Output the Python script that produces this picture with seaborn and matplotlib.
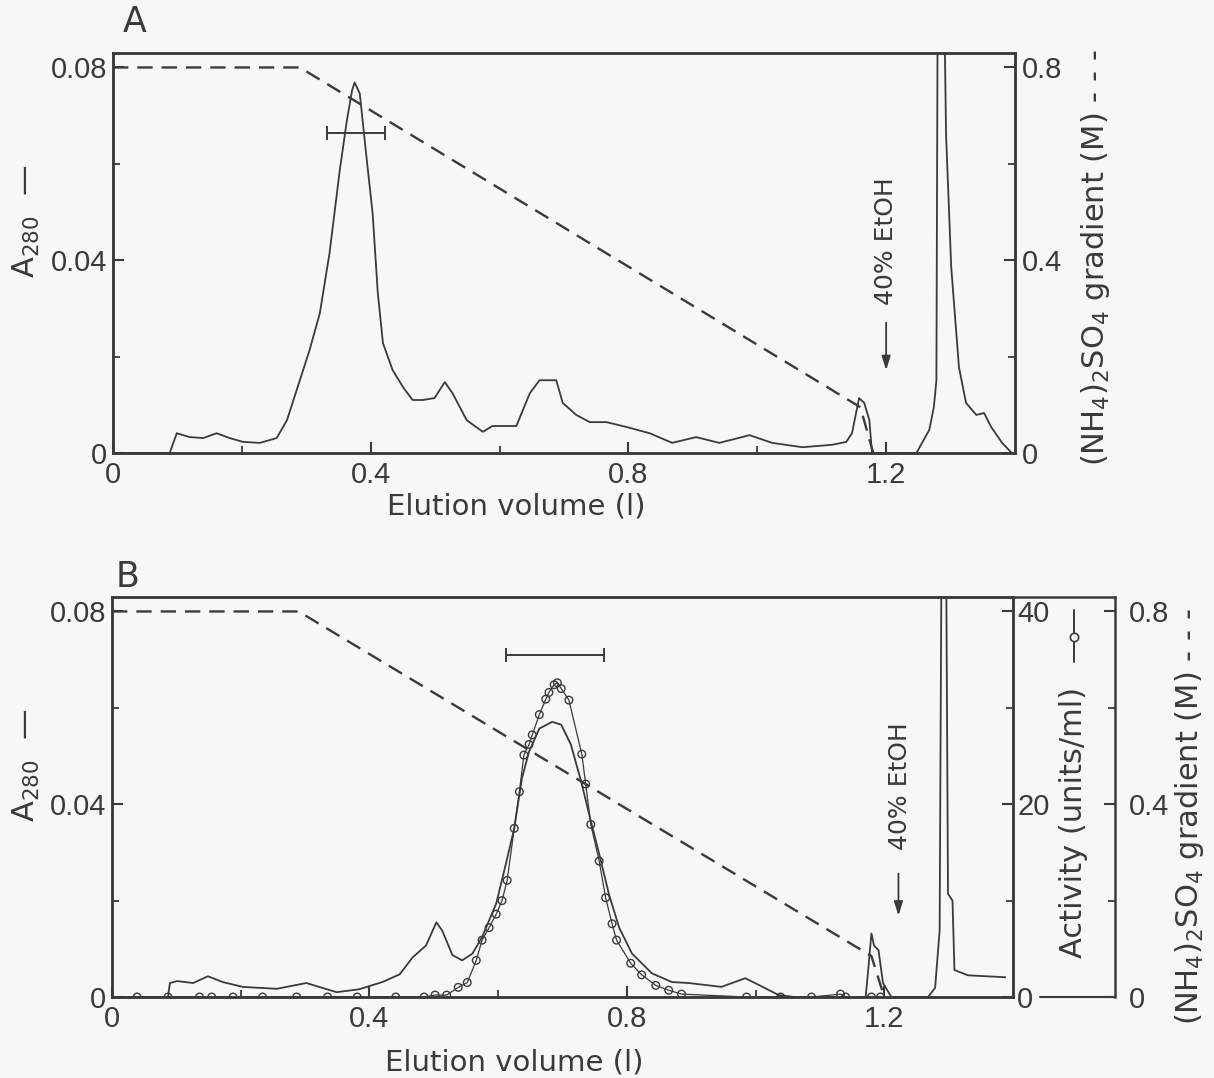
import matplotlib
matplotlib.use("Agg")
import matplotlib.pyplot as plt
import seaborn as sns
import pandas as pd
from matplotlib.lines import Line2D

# ---------------- Panel A data ----------------
a_vol = [0.000, 0.088, 0.099, 0.119, 0.140, 0.161, 0.181, 0.202, 0.228, 0.254,
         0.270, 0.290, 0.305, 0.321, 0.336, 0.352, 0.363, 0.371, 0.375, 0.383,
         0.394, 0.403, 0.411, 0.419, 0.434, 0.450, 0.465, 0.481, 0.499, 0.515,
         0.527, 0.549, 0.574, 0.589, 0.626, 0.647, 0.662, 0.688, 0.698, 0.719,
         0.740, 0.766, 0.797, 0.833, 0.868, 0.905, 0.941, 0.988, 1.023, 1.070,
         1.116, 1.138, 1.147, 1.158, 1.166, 1.174, 1.178, 1.247, 1.267, 1.274,
         1.278, 1.280, 1.290, 1.293, 1.301, 1.313, 1.324, 1.340, 1.352, 1.363,
         1.380, 1.395]
a_a280 = [0.0, 0.0, 0.0041, 0.0033, 0.0031, 0.0041, 0.0031, 0.0023, 0.0021, 0.0031,
          0.0068, 0.0151, 0.0213, 0.0290, 0.0414, 0.0587, 0.0690, 0.0752, 0.0769, 0.0746,
          0.0607, 0.0497, 0.0332, 0.0228, 0.0172, 0.0137, 0.0110, 0.0110, 0.0114, 0.0147,
          0.0124, 0.0068, 0.0044, 0.0056, 0.0056, 0.0124, 0.0151, 0.0151, 0.0104, 0.0079,
          0.0064, 0.0064, 0.0054, 0.0041, 0.0021, 0.0033, 0.0021, 0.0037, 0.0021, 0.0012,
          0.0017, 0.0023, 0.0041, 0.0114, 0.0104, 0.0068, 0.0, 0.0, 0.0048, 0.0095,
          0.0150, 0.0950, 0.0950, 0.0660, 0.0386, 0.0178, 0.0104, 0.0079, 0.0083, 0.0054,
          0.0021, 0.0]
a_grad_vol = [0.0, 0.29, 1.16, 1.18]
a_grad = [0.8, 0.8, 0.095, 0.0]
a_bar = [0.332, 0.422]
a_bar_level = 0.0665

# ---------------- Panel B data ----------------
b_vol = [0.000, 0.087, 0.090, 0.101, 0.126, 0.149, 0.172, 0.203, 0.256, 0.302,
         0.349, 0.384, 0.420, 0.447, 0.467, 0.488, 0.504, 0.513, 0.529, 0.544,
         0.560, 0.575, 0.597, 0.612, 0.625, 0.637, 0.648, 0.664, 0.684, 0.698,
         0.713, 0.729, 0.744, 0.757, 0.772, 0.788, 0.808, 0.839, 0.870, 0.896,
         0.947, 0.984, 1.005, 1.036, 1.060, 1.171, 1.175, 1.180, 1.184, 1.191,
         1.198, 1.211, 1.268, 1.279, 1.286, 1.289, 1.296, 1.299, 1.306, 1.309,
         1.330, 1.388]
b_a280 = [0.0, 0.0, 0.0029, 0.0033, 0.0029, 0.0043, 0.0031, 0.0021, 0.0017, 0.0029,
          0.0010, 0.0016, 0.0031, 0.0047, 0.0082, 0.0107, 0.0155, 0.0138, 0.0087, 0.0076,
          0.0090, 0.0124, 0.0194, 0.0276, 0.0350, 0.0454, 0.0509, 0.0557, 0.0571, 0.0565,
          0.0524, 0.0447, 0.0365, 0.0297, 0.0214, 0.0144, 0.0090, 0.0049, 0.0031, 0.0029,
          0.0021, 0.0039, 0.0025, 0.0004, 0.0, 0.0, 0.0056, 0.0132, 0.0107, 0.0097,
          0.0029, 0.0, 0.0, 0.0019, 0.0138, 0.0950, 0.0950, 0.0214, 0.0200, 0.0056,
          0.0045, 0.0041]
b_act_vol = [0.039, 0.087, 0.136, 0.155, 0.188, 0.234, 0.287, 0.335, 0.381, 0.441,
             0.485, 0.502, 0.520, 0.538, 0.552, 0.566, 0.575, 0.586, 0.597, 0.606,
             0.614, 0.625, 0.633, 0.640, 0.648, 0.653, 0.664, 0.674, 0.679, 0.687,
             0.692, 0.698, 0.710, 0.730, 0.736, 0.744, 0.757, 0.767, 0.777, 0.784,
             0.806, 0.823, 0.845, 0.865, 0.885, 0.986, 1.039, 1.087, 1.132, 1.140,
             1.180, 1.194]
b_activity = [0.0, 0.0, 0.0, 0.0, 0.0, 0.0, 0.0, 0.0, 0.0, 0.0,
              0.0, 0.2, 0.2, 1.0, 1.5, 3.8, 5.9, 7.2, 8.6, 10.0,
              12.1, 17.5, 21.3, 25.1, 26.2, 27.2, 29.3, 30.9, 31.6, 32.4,
              32.6, 32.0, 30.8, 25.2, 22.1, 17.9, 14.1, 10.3, 7.6, 5.9,
              3.5, 2.3, 1.2, 0.7, 0.3, 0.0, 0.0, 0.0, 0.3, 0.0,
              0.0, 0.0]
b_grad_vol = [0.0, 0.29, 1.18, 1.20]
b_grad = [0.8, 0.8, 0.085, 0.0]
b_bar = [0.612, 0.764]
b_bar_level = 0.0709

x_ticks = [0, 0.4, 0.8, 1.2]
x_ticklabels = ["0", "0.4", "0.8", "1.2"]
a280_ticks = [0, 0.04, 0.08]
a280_ticklabels = ["0", "0.04", "0.08"]
grad_ticks = [0, 0.4, 0.8]
grad_ticklabels = ["0", "0.4", "0.8"]
act_ticks = [0, 20, 40]
act_ticklabels = ["0", "20", "40"]

# ---------------- style ----------------
sns.set_theme(style="ticks")
plt.rcParams["font.family"] = ["Liberation Sans", "DejaVu Sans"]
INK = "#3a3a3a"
BG = "#f7f7f5"
LAB = "DejaVu Sans"
W, H = 1214, 1078

fig = plt.figure(figsize=(W / 100, H / 100), dpi=100, facecolor=BG)


def fx(x):
    return x / W


def fy(y):
    return 1 - y / H


def base_axes(left, right, top, bottom):
    ax = fig.add_axes([fx(left), fy(bottom), (right - left) / W, (bottom - top) / H])
    ax.set_facecolor("none")
    ax.set_xlim(0, 1.4)
    ax.set_ylim(0, 0.083)
    for s in ax.spines.values():
        s.set_color(INK)
        s.set_linewidth(1.8)
    ax.set_xticks(x_ticks, x_ticklabels)
    ax.set_xticks([0.2, 0.6, 1.0], minor=True)
    ax.set_yticks(a280_ticks, a280_ticklabels)
    ax.set_yticks([0.02, 0.06], minor=True)
    ax.tick_params(axis="both", which="major", direction="in", length=8, width=1.5,
                   colors=INK, labelsize=21, pad=4)
    ax.tick_params(axis="both", which="minor", direction="in", length=5, width=1.3,
                   colors=INK)
    ax.tick_params(axis="x", which="major", pad=5.5)
    ax.set_xlabel("")
    ax.set_ylabel("")
    return ax


def finish_twin(tw, lim, ticks, labels, minor, pad):
    tw.set_ylim(*lim)
    tw.set_yticks(ticks, labels)
    tw.set_yticks(minor, minor=True)
    tw.tick_params(axis="y", which="major", direction="in", length=8, width=1.5,
                   colors=INK, labelsize=21, pad=pad)
    tw.tick_params(axis="y", which="minor", direction="in", length=5, width=1.3,
                   colors=INK)
    tw.set_ylabel("")
    for s in tw.spines.values():
        s.set_color(INK)
        s.set_linewidth(1.8)


# ================= Panel A =================
axA = base_axes(113, 1015, 53, 453)
dfA = pd.DataFrame({"vol": a_vol, "a280": a_a280})
sns.lineplot(data=dfA, x="vol", y="a280", ax=axA, color=INK, lw=1.3, sort=False)
axA.errorbar([(a_bar[0] + a_bar[1]) / 2], [a_bar_level], xerr=[(a_bar[1] - a_bar[0]) / 2],
             fmt="none", ecolor=INK, elinewidth=1.4, capsize=5, capthick=1.4)
axA.set_xlabel("")
axA.set_ylabel("")

twA = axA.twinx()
dfAg = pd.DataFrame({"vol": a_grad_vol, "grad": a_grad})
sns.lineplot(data=dfAg, x="vol", y="grad", ax=twA, color=INK, lw=1.7,
             linestyle=(0, (6.5, 3.8)), sort=False)
finish_twin(twA, (0, 0.83), grad_ticks, grad_ticklabels, [0.2, 0.6], 5)

axA.annotate("", xy=(1.2, 0.0166), xytext=(1.2, 0.0276),
             arrowprops=dict(arrowstyle="-|>,head_length=0.7,head_width=0.22",
                             color=INK, lw=1.3))
axA.text(1.2, 0.0439, "40% EtOH", rotation=90, ha="center", va="center",
         fontsize=18, color=INK, family=LAB)

# ================= Panel B =================
axB = base_axes(112, 1013, 597, 997)
dfB = pd.DataFrame({"vol": b_vol, "a280": b_a280})
sns.lineplot(data=dfB, x="vol", y="a280", ax=axB, color=INK, lw=1.3, sort=False)
axB.errorbar([(b_bar[0] + b_bar[1]) / 2], [b_bar_level], xerr=[(b_bar[1] - b_bar[0]) / 2],
             fmt="none", ecolor=INK, elinewidth=1.4, capsize=5, capthick=1.4)
axB.set_xlabel("")
axB.set_ylabel("")

twAct = axB.twinx()
dfAct = pd.DataFrame({"vol": b_act_vol, "act": b_activity})
sns.lineplot(data=dfAct, x="vol", y="act", ax=twAct, color=INK, lw=0.9, sort=False)
sns.scatterplot(data=dfAct, x="vol", y="act", ax=twAct, s=30, marker="o",
                facecolor="none", edgecolor=INK, linewidth=1.0, zorder=3)
finish_twin(twAct, (0, 41.5), act_ticks, act_ticklabels, [10, 30], 3)

twG = axB.twinx()
pos = (1115 - 112) / (1013 - 112)
twG.spines["right"].set_position(("axes", pos))
dfBg = pd.DataFrame({"vol": b_grad_vol, "grad": b_grad})
sns.lineplot(data=dfBg, x="vol", y="grad", ax=twG, color=INK, lw=1.7,
             linestyle=(0, (6.5, 3.8)), sort=False)
finish_twin(twG, (0, 0.83), grad_ticks, grad_ticklabels, [0.2, 0.6], 10)
twG.spines["left"].set_visible(False)
twG.spines["top"].set_visible(False)
twG.spines["bottom"].set_visible(False)
# frame extension of the third axis
twG.plot([1.0, pos], [1.0, 1.0], transform=axB.transAxes, color=INK, lw=1.8, clip_on=False)
twG.plot([(1040 - 112) / 901, pos], [0.0, 0.0], transform=axB.transAxes, color=INK,
         lw=1.5, clip_on=False)

axB.annotate("", xy=(1.222, 0.0163), xytext=(1.222, 0.0262),
             arrowprops=dict(arrowstyle="-|>,head_length=0.7,head_width=0.22",
                             color=INK, lw=1.3))
axB.text(1.225, 0.0437, "40% EtOH", rotation=90, ha="center", va="center",
         fontsize=18, color=INK, family=LAB)

# ================= labels =================
fig.text(fx(135), fy(22), "A", fontsize=25, color=INK, ha="center", va="center", family=LAB)
fig.text(fx(128), fy(577), "B", fontsize=25, color=INK, ha="center", va="center", family=LAB)

fig.text(fx(516), fy(507), "Elution volume (l)", fontsize=21, color=INK,
         ha="center", va="center", family=LAB)
fig.text(fx(514), fy(1063), "Elution volume (l)", fontsize=21, color=INK,
         ha="center", va="center", family=LAB)

fig.text(fx(26), fy(221), r"A$_{280}$  —", rotation=90, fontsize=22, color=INK,
         ha="center", va="center", family=LAB)
fig.text(fx(26), fy(765), r"A$_{280}$  —", rotation=90, fontsize=22, color=INK,
         ha="center", va="center", family=LAB)

fig.text(fx(1096), fy(258), r"(NH$_4$)$_2$SO$_4$ gradient (M) - - -", rotation=90,
         fontsize=22, color=INK, ha="center", va="center", family=LAB)
fig.text(fx(1190), fy(817), r"(NH$_4$)$_2$SO$_4$ gradient (M) - - -", rotation=90,
         fontsize=22, color=INK, ha="center", va="center", family=LAB)

fig.text(fx(1074), fy(822), "Activity (units/ml)", rotation=90, fontsize=22, color=INK,
         ha="center", va="center", family=LAB)
fig.add_artist(Line2D([fx(1074), fx(1074)], [fy(662), fy(610)], color=INK, lw=1.4,
                      transform=fig.transFigure))
fig.add_artist(Line2D([fx(1074)], [fy(637)], marker="o", markersize=6,
                      markerfacecolor=BG, markeredgecolor=INK, markeredgewidth=1.2,
                      transform=fig.transFigure))

fig.savefig("out.png", dpi=100, facecolor=BG)
